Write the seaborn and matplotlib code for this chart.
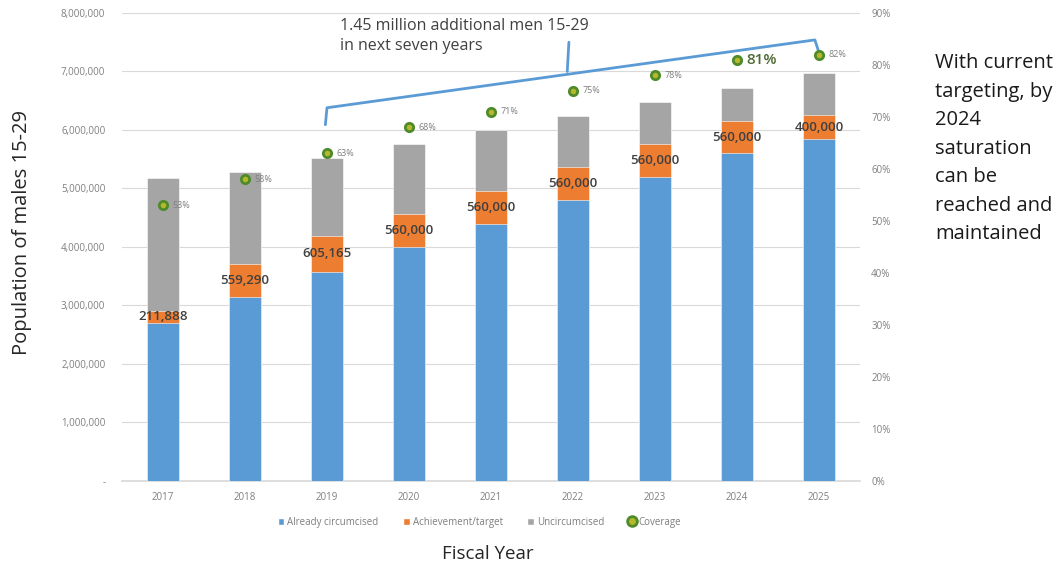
import numpy as np
import pandas as pd
import matplotlib
matplotlib.use("Agg")
import matplotlib.pyplot as plt
from matplotlib.lines import Line2D
from matplotlib.patches import Patch
from matplotlib.ticker import FuncFormatter, MultipleLocator
import seaborn as sns

# ---- data -------------------------------------------------------------
years = ["2017", "2018", "2019", "2020", "2021", "2022", "2023", "2024", "2025"]
already_circumcised = [2700000, 3150000, 3580000, 4000000, 4400000, 4800000, 5200000, 5600000, 5850000]
achievement_target = [211888, 559290, 605165, 560000, 560000, 560000, 560000, 560000, 400000]
uncircumcised = [2270000, 1570000, 1340000, 1200000, 1040000, 880000, 720000, 560000, 720000]
coverage = [0.53, 0.58, 0.63, 0.68, 0.71, 0.75, 0.78, 0.81, 0.82]

BLUE, ORANGE, GREY = "#5B9BD5", "#ED7D31", "#A5A5A5"
GREEN_EDGE, GREEN_FACE = "#4F8A2B", "#B5B82A"
TICK_COLOR = "#7F7F7F"

sns.set_theme(style="white")
plt.rcParams["font.family"] = ["Open Sans", "DejaVu Sans"]

df = pd.DataFrame({
    "year": years,
    "already": already_circumcised,
    "achievement": achievement_target,
    "uncirc": uncircumcised,
    "coverage": coverage,
})
df["lower"] = df["already"]
df["middle"] = df["already"] + df["achievement"]
df["total"] = df["middle"] + df["uncirc"]

fig = plt.figure(figsize=(10.6, 5.65), dpi=100)
ax = fig.add_axes([0.1151, 0.1487, 0.6962, 0.8283])

# stacked bars: draw cumulative totals back to front
sns.barplot(data=df, x="year", y="total", color=GREY, width=0.4, saturation=1, ax=ax, zorder=2)
sns.barplot(data=df, x="year", y="middle", color=ORANGE, width=0.4, saturation=1, ax=ax, zorder=3)
sns.barplot(data=df, x="year", y="lower", color=BLUE, width=0.4, saturation=1, ax=ax, zorder=4)
for p in ax.patches:
    p.set_edgecolor("white")
    p.set_linewidth(0.4)

ax.set_xlim(-0.5, len(years) - 0.5)
ax.set_ylim(0, 8000000)
ax.yaxis.set_major_locator(MultipleLocator(1000000))
ax.yaxis.set_major_formatter(FuncFormatter(lambda v, _: "-" if v == 0 else f"{int(v):,}"))
ax.grid(axis="y", color="#D9D9D9", linewidth=0.8, zorder=0)
ax.set_axisbelow(True)
for s in ["top", "right", "left"]:
    ax.spines[s].set_visible(False)
ax.spines["bottom"].set_color("#D9D9D9")
ax.tick_params(axis="both", length=0, labelsize=7, colors=TICK_COLOR)
ax.tick_params(axis="y", pad=12)
ax.tick_params(axis="x", pad=8)
ax.set_xlabel("Fiscal Year", fontsize=13.5, color="#262626")
ax.set_ylabel("Population of males 15-29", fontsize=14.5, color="#262626")
ax.xaxis.set_label_coords(0.496, -0.136)
ax.yaxis.set_label_coords(-0.122, 0.53)

# values of the achievement/target segment
for i, (lo, ach) in enumerate(zip(already_circumcised, achievement_target)):
    ax.text(i, lo + ach / 2, f"{ach:,}", ha="center", va="center", fontsize=9.5,
            fontweight="semibold", color="#404040", zorder=6)

# coverage on the secondary axis
ax2 = ax.twinx()
sns.scatterplot(data=df, x="year", y="coverage", ax=ax2, s=36, color=GREEN_FACE,
                edgecolor=GREEN_EDGE, linewidth=2.0, zorder=7, legend=False)
ax2.set_ylim(0, 0.9)
ax2.yaxis.set_major_locator(MultipleLocator(0.1))
ax2.yaxis.set_major_formatter(FuncFormatter(lambda v, _: f"{v * 100:.0f}%"))
ax2.tick_params(axis="y", length=0, labelsize=7, colors=TICK_COLOR, pad=8)
ax2.set_ylabel("")
ax2.grid(False)
for s in ax2.spines.values():
    s.set_visible(False)
for i, c in enumerate(coverage):
    big = (years[i] == "2024")
    ax2.annotate(f"{c * 100:.0f}%", (i, c), xytext=(7, 0), textcoords="offset points",
                 ha="left", va="center",
                 fontsize=11 if big else 6.5,
                 color="#4E6B33" if big else TICK_COLOR,
                 fontweight="semibold" if big else "normal", zorder=8)

# bracket spanning 2019-2025
bracket_kw = dict(color=BLUE, linewidth=2.0, solid_capstyle="round", zorder=9, clip_on=False)
ax.plot([1.98, 2.0, 7.95, 8.01], [6090000, 6380000, 7540000, 7280000], **bracket_kw)
ax.plot([4.93, 4.95], [7000000, 7500000], **bracket_kw)
ax.text(2.16, 7.61e6, "1.45 million additional men 15-29\nin next seven years",
        ha="left", va="center", fontsize=11.5, color="#404040", linespacing=1.3)

# side note
fig.text(0.882, 0.906,
         "With current\ntargeting, by\n2024\nsaturation\ncan be\nreached and\nmaintained",
         ha="left", va="top", fontsize=14.5, color="#1A1A1A", linespacing=1.57)

# legend
handles = [
    Patch(facecolor=BLUE, label="Already circumcised"),
    Patch(facecolor=ORANGE, label="Achievement/target"),
    Patch(facecolor=GREY, label="Uncircumcised"),
    Line2D([], [], marker="o", linestyle="", markersize=7, markerfacecolor=GREEN_FACE,
           markeredgecolor=GREEN_EDGE, markeredgewidth=2, label="Coverage"),
]
fig.legend(handles=handles, loc="center", bbox_to_anchor=(0.452, 0.076), ncol=4, frameon=False,
           fontsize=7, labelcolor=TICK_COLOR, handlelength=0.7, handleheight=0.7,
           handletextpad=0.3, columnspacing=2.5)

fig.savefig("out.png", dpi=100)
